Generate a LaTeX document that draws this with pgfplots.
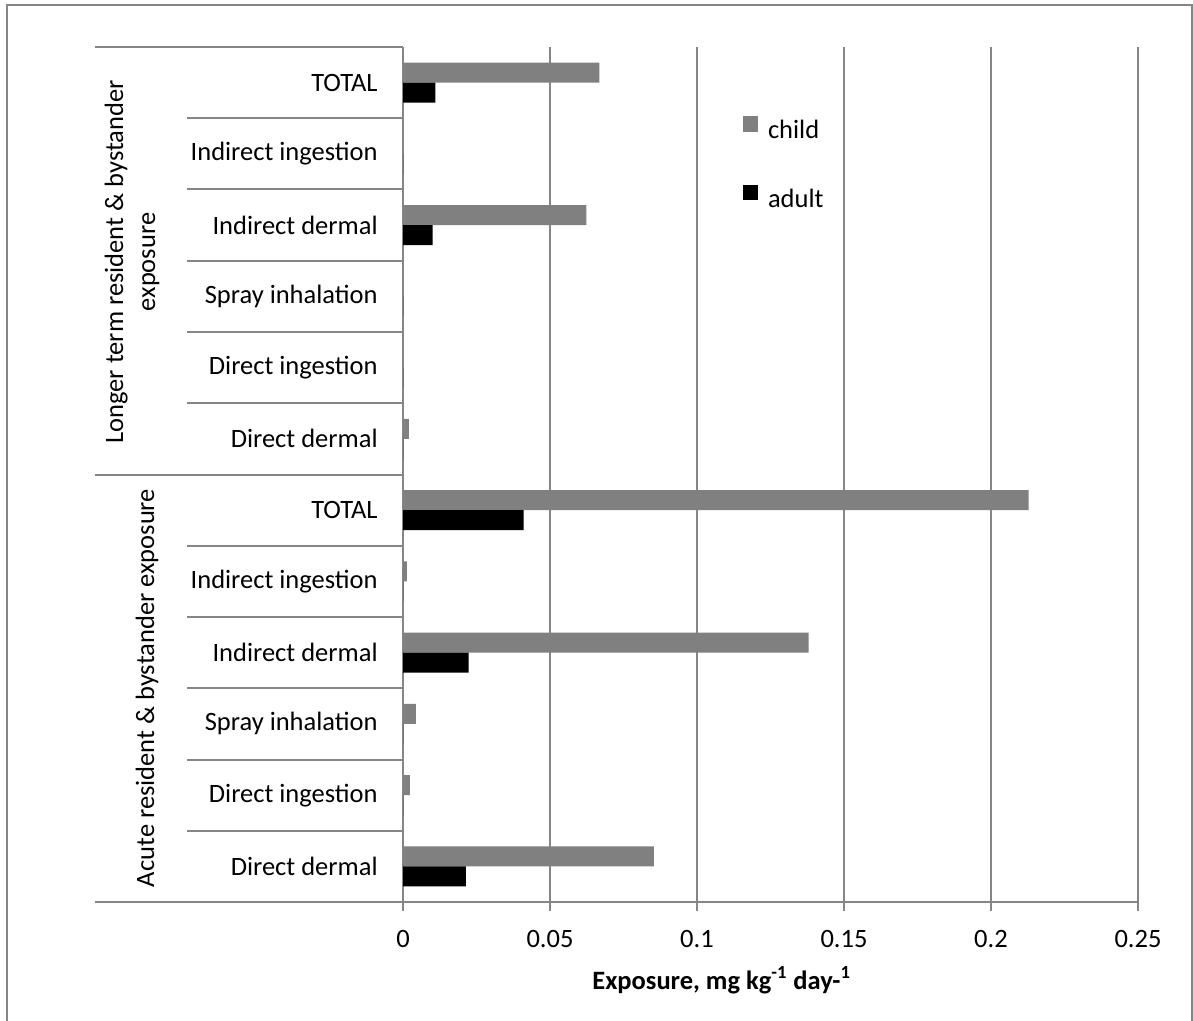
\documentclass[border=0pt]{standalone}
\usepackage{fontspec}
\setmainfont{Carlito}
\usepackage{pgfplots}
\pgfplotsset{compat=1.18}
\definecolor{childgray}{RGB}{128,128,128}
\definecolor{gridgray}{RGB}{134,134,134}
\newcommand{\cf}{\fontsize{13.25}{16}\selectfont}
\begin{document}
\begin{tikzpicture}
\begin{scope}[x=0.5pt,y=-0.5pt]
\useasboundingbox (0,0) rectangle (1193,1021);
\draw[gridgray, line width=1pt] (7,1021) -- (7,5) -- (1191.5,5) -- (1191.5,1021);
\node[rotate=90, align=center, font=\cf] at (132,262) {Longer term resident \& bystander\\exposure};
\node[rotate=90, font=\cf] at (147,688) {Acute resident \& bystander exposure};
\end{scope}
\begin{axis}[
  at={(201.5pt,-451pt)}, anchor=south west,
  scale only axis, width=367.5pt, height=427.5pt,
  xmin=0, xmax=0.25, ymin=-0.5, ymax=11.5,
  axis x line=bottom, axis y line=left,
  axis line style={-, gridgray, line width=1pt},
  xtick={0,0.05,0.1,0.15,0.2,0.25},
  xticklabels={0,0.05,0.1,0.15,0.2,0.25},
  xmajorgrids, grid style={gridgray, line width=1pt},
  tick align=outside, major tick length=4.5pt,
  tick style={gridgray, line width=1pt},
  ytick={0,...,11},
  yticklabels={Direct dermal,Direct ingestion,Spray inhalation,Indirect dermal,Indirect ingestion,TOTAL,Direct dermal,Direct ingestion,Spray inhalation,Indirect dermal,Indirect ingestion,TOTAL},
  ytick style={draw=none},
  yticklabel style={font=\cf, inner sep=0pt, anchor=east},
  yticklabel shift=8pt,
  xticklabel style={font=\cf, inner sep=0pt, anchor=north},
  xticklabel shift=9.25pt,
  clip=false,
  xlabel={\textbf{Exposure, mg kg\textsuperscript{-1} day-\textsuperscript{1}}},
  xlabel style={at={(axis description cs:0.4335,0)}, anchor=center, yshift=-39pt, font=\cf},
  legend style={at={(0.4622,0.9193)}, anchor=north west, draw=none, fill=none,
    inner sep=0pt, outer sep=0pt, row sep=21.5pt, font=\cf,
    nodes={inner sep=0pt},
    /tikz/every odd column/.append style={column sep=5pt}},
  legend cell align=left,
]
\addplot[xbar, bar width=10pt, bar shift=5pt, fill=childgray, draw=none, forget plot] coordinates {
 (0.0853,0) (0.0023,1) (0.0044,2) (0.138,3) (0.0013,4) (0.2128,5)
 (0.002,6) (0,7) (0,8) (0.0624,9) (0,10) (0.0668,11)};
\addplot[xbar, bar width=10pt, bar shift=-5pt, fill=black, draw=none, forget plot] coordinates {
 (0.0214,0) (0,1) (0,2) (0.0223,3) (0,4) (0.041,5)
 (0,6) (0,7) (0,8) (0.0101,9) (0,10) (0.011,11)};
\addlegendimage{legend image code/.code={\fill[childgray] (0pt,0pt) rectangle (7.25pt,7.25pt);}}
\addlegendentry{child}
\addlegendimage{legend image code/.code={\fill[black] (0pt,0pt) rectangle (7.25pt,7.25pt);}}
\addlegendentry{adult}
\pgfplotsinvokeforeach{0.5,1.5,2.5,3.5,4.5,6.5,7.5,8.5,9.5,10.5}{
  \draw[gridgray, line width=1pt] ([xshift=-108pt]axis cs:0,#1) -- (axis cs:0,#1);
}
\pgfplotsinvokeforeach{-0.5,5.5,11.5}{
  \draw[gridgray, line width=1pt] ([xshift=-154pt]axis cs:0,#1) -- (axis cs:0,#1);
}
\end{axis}
\end{tikzpicture}
\end{document}
